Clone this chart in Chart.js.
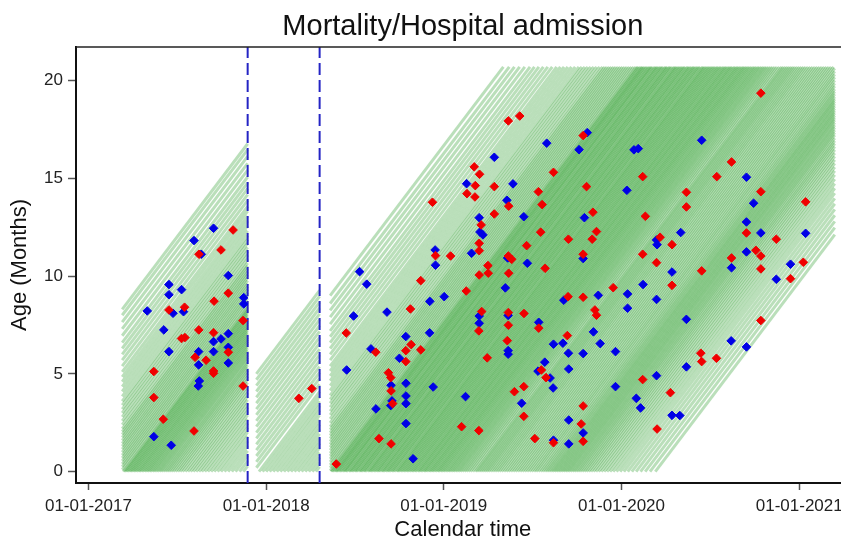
<!DOCTYPE html>
<html>
<head>
<meta charset="utf-8">
<script src="https://cdn.jsdelivr.net/npm/chart.js@4.4.1/dist/chart.umd.min.js"></script>
<style>
  html, body { margin: 0; padding: 0; background: #fff; overflow: hidden; }
  #box { width: 841px; height: 543px; overflow: hidden; }
</style>
</head>
<body>
<div id="box"><canvas id="myChart" width="855" height="543"></canvas></div>
<script>
var ctx = document.getElementById('myChart').getContext('2d');
var FONT = "'Liberation Sans', Arial, sans-serif";

// axis ranges and ticks (calendar time in decimal years, age in months)
const titleText = 'Mortality/Hospital admission';
const timeMin = 2016.93, timeMax = 2021.284;
const ageMin = -0.58, ageMax = 21.72;
const tickYears = [2017, 2018, 2019, 2020, 2021];
const ageTicks = [0, 5, 10, 15, 20];

// follow-up periods (dashed lines mark the breaks)
const periodStart = [2017.19, 2017.945, 2018.36];
const periodEnd = [2017.896, 2018.301, 2021.2];
const breakDates = [2017.896, 2018.301];
const maxAge = 20.7;

// ages (months) of children already present when each period opens
const startAgesP1 = [0.1,0.25,0.4,0.55,0.7,0.85,1.0,1.15,1.3,1.45,1.6,1.75,1.9,2.05,2.2,2.4,2.6,2.8,3.0,3.2,3.4,3.6,3.85,4.1,4.35,4.6,4.85,5.1,5.4,5.7,6.0,6.3,6.6,6.95,7.3,7.65,8.0,8.3];
const startAgesP2 = [0.2,0.5,0.8,1.1,1.4,1.7,2.0,2.3,2.6,2.9,3.2,3.5,3.8,4.1,4.4,4.7,5.0];
const startAgesP3 = [0.05,0.2,0.35,0.5,0.65,0.8,0.95,1.1,1.25,1.4,1.55,1.7,1.85,2.0,2.15,2.3,2.5,2.7,2.9,3.1,3.3,3.5,3.7,3.9,4.15,4.4,4.65,4.9,5.15,5.4,5.7,6.0,6.3,6.6,6.9,7.2,7.55,7.9,8.25,8.6,9.0];

// births (entry at age 0) during each period
const birthsP1 = [2017.195,2017.203,2017.211,2017.219,2017.228,2017.236,2017.244,2017.253,2017.261,2017.27,2017.279,2017.287,2017.296,2017.305,2017.314,2017.323,2017.332,2017.341,2017.35,2017.36,2017.369,2017.379,2017.389,2017.399,2017.409,2017.42,2017.431,2017.442,2017.453,2017.465,2017.477,2017.49,2017.503,2017.516,2017.53,2017.545,2017.56,2017.575,2017.59,2017.606,2017.622,2017.638,2017.655,2017.672,2017.69,2017.708,2017.727,2017.746,2017.766,2017.786,2017.807,2017.828,2017.85,2017.872];
const birthsP2 = [2017.96,2017.98,2018.00,2018.02,2018.04,2018.06,2018.08,2018.10,2018.12,2018.14,2018.16,2018.18,2018.20,2018.22,2018.24,2018.26,2018.28];
const birthsP3 = [2018.365,2018.372,2018.381,2018.39,2018.396,2018.404,2018.413,2018.42,2018.43,2018.437,2018.445,2018.452,2018.463,2018.47,2018.478,2018.486,2018.495,2018.503,2018.51,2018.521,2018.528,2018.535,2018.545,2018.552,2018.56,2018.571,2018.578,2018.586,2018.594,2018.603,2018.611,2018.62,2018.628,2018.635,2018.646,2018.653,2018.661,2018.67,2018.679,2018.686,2018.695,2018.704,2018.712,2018.72,2018.731,2018.738,2018.746,2018.755,2018.763,2018.772,2018.78,2018.789,2018.797,2018.806,2018.815,2018.823,2018.832,2018.84,2018.85,2018.858,2018.866,2018.875,2018.884,2018.892,2018.9,2018.91,2018.918,2018.927,2018.935,2018.944,2018.953,2018.962,2018.97,2018.979,2018.988,2018.997,2019.006,2019.016,2019.025,2019.034,2019.044,2019.053,2019.063,2019.073,2019.083,2019.093,2019.104,2019.115,2019.126,2019.138,2019.15,2019.163,2019.176,2019.186,2019.197,2019.208,2019.219,2019.23,2019.241,2019.252,2019.264,2019.276,2019.288,2019.30,2019.312,2019.325,2019.338,2019.351,2019.364,2019.377,2019.39,2019.403,2019.416,2019.429,2019.442,2019.455,2019.468,2019.481,2019.494,2019.507,2019.519,2019.532,2019.545,2019.557,2019.569,2019.58,2019.591,2019.602,2019.612,2019.622,2019.632,2019.642,2019.652,2019.662,2019.672,2019.682,2019.692,2019.702,2019.712,2019.723,2019.733,2019.744,2019.755,2019.766,2019.778,2019.79,2019.802,2019.815,2019.828,2019.842,2019.856,2019.871,2019.886,2019.902,2019.918,2019.935,2019.953,2019.972,2019.992,2020.013,2020.035,2020.058,2020.082,2020.107,2020.133,2020.16,2020.19];

// events: red = mortality, blue = hospital admission
const redDates = [2017.814,2017.622,2017.746,2017.787,2017.707,2017.453,2017.541,2017.870,2017.621,2017.524,2017.543,2017.704,2017.787,2017.600,2017.662,2017.704,2017.704,2017.368,2017.870,2017.368,2017.421,2017.594,
  2018.184,2018.257,2018.395,
  2019.171,2019.201,2019.177,2019.284,2019.130,2019.175,2019.365,2018.936,2019.284,2019.210,2019.199,2019.199,2018.953,2019.038,2019.248,2019.199,2019.250,2019.365,2018.870,2019.126,2018.812,2019.213,2019.197,2019.363,2019.363,2019.357,2018.451,2018.816,2018.786,2018.870,2018.617,2018.786,2019.244,2018.688,2018.701,2018.703,2018.712,2019.100,2019.197,2018.635,2018.703,
  2019.363,2019.427,2019.784,2019.617,2019.803,2020.119,2019.532,2019.553,2019.839,2020.134,2019.545,2019.859,2019.701,2019.835,2020.217,2020.284,2019.466,2019.784,2020.119,2019.363,2019.382,2020.197,2019.570,2019.953,2020.284,2019.699,2019.784,2019.850,2019.859,2019.451,2019.534,2019.695,2019.549,2019.575,2020.119,2020.275,2019.450,2019.397,2019.784,2019.450,2019.773,2020.200,2019.512,2019.617,2019.784,
  2020.784,2020.619,2020.536,2020.365,2020.784,2021.036,2020.365,2020.703,2020.871,2020.756,2020.784,2020.619,2021.023,2020.451,2020.784,2020.951,2020.784,2020.446,2020.451,2020.534];
const redAges = [12.36,11.12,11.34,9.13,8.72,8.27,8.41,7.73,7.25,6.81,6.86,7.11,6.11,5.85,5.70,5.15,5.03,5.12,4.38,3.79,2.68,2.08,
  3.75,4.25,0.39,
  15.59,15.21,14.63,14.58,14.22,14.05,13.58,13.78,13.18,12.62,11.68,11.30,11.05,11.03,10.54,10.06,10.15,10.15,9.77,9.24,8.32,8.19,7.20,8.14,7.49,6.70,7.09,6.50,6.19,6.23,6.11,5.63,5.82,5.06,4.81,4.13,3.48,2.30,2.10,1.69,1.42,
  17.94,18.19,17.19,15.31,14.58,15.09,14.32,13.66,13.27,13.06,12.25,12.28,11.89,11.89,11.99,11.61,11.56,11.12,11.12,11.03,10.86,10.69,10.40,9.41,9.53,8.95,8.92,8.27,8.00,8.09,7.34,6.96,5.20,4.81,4.71,4.04,4.35,4.09,3.36,2.83,2.44,2.18,1.69,1.48,1.55,
  19.36,15.84,15.09,14.29,14.32,13.80,13.54,12.21,11.89,11.32,11.03,10.93,10.71,10.27,10.37,9.87,7.73,6.06,5.63,5.80];
const blueDates = [2017.704,2017.594,2017.635,2017.787,2017.453,2017.524,2017.453,2017.874,2017.874,2017.331,2017.476,2017.535,2017.424,2017.787,2017.746,2017.704,2017.453,2017.620,2017.704,2017.787,2017.620,2017.787,2017.624,2017.618,2017.368,2017.466,
  2019.284,2019.128,2019.355,2019.199,2019.203,2019.220,2019.156,2018.951,2018.953,2018.526,2018.566,2019.346,2019.002,2018.921,2018.680,2018.492,2019.199,2019.362,2019.199,2019.362,2019.362,2018.786,2018.920,2018.590,2018.750,2018.453,2018.787,2018.703,2018.940,2018.787,2019.122,2018.708,2018.701,2018.787,2018.618,2018.787,2018.827,
  2019.807,2019.579,2019.761,2020.070,2020.094,2019.389,2020.030,2019.450,2019.791,2020.333,2020.197,2020.200,2019.784,2019.359,2019.470,2020.284,2020.121,2020.034,2019.869,2019.675,2020.197,2020.034,2019.534,2019.842,2019.617,2019.670,2019.880,2019.701,2019.784,2019.966,2019.568,2019.530,2019.598,2019.703,2020.197,2019.615,2019.966,2020.083,2020.107,2019.438,2020.284,2020.328,2019.703,2019.784,2019.617,2019.703,
  2020.451,2020.703,2020.743,2020.703,2020.784,2021.036,2020.703,2020.619,2020.951,2020.871,2020.365,2020.617,2020.703,2020.365];
const blueAges = [12.45,11.82,11.12,10.03,9.57,9.31,9.05,8.90,8.58,8.22,8.10,8.18,7.25,7.06,6.79,6.65,6.14,6.14,6.14,6.36,5.46,5.56,4.64,4.38,1.79,1.35,
  16.08,14.73,13.88,12.99,12.26,12.11,11.17,11.34,10.56,10.23,9.59,9.40,8.95,8.71,8.16,7.96,7.96,7.99,7.59,6.19,6.01,6.91,7.10,6.28,5.80,5.20,4.52,4.42,4.33,3.87,3.84,3.62,3.38,3.48,3.21,2.46,0.66,
  17.34,16.80,16.47,16.46,16.52,14.72,14.39,13.04,12.99,12.23,11.85,11.61,10.90,10.93,10.66,10.21,9.57,9.09,9.02,8.77,8.81,8.36,7.64,7.15,6.52,6.57,6.55,6.06,6.04,6.14,5.60,5.14,4.79,5.25,4.91,4.28,4.35,3.75,3.26,3.50,2.88,2.87,2.64,1.98,1.61,1.42,
  16.95,15.06,13.73,12.77,12.21,12.19,11.24,10.43,10.61,9.84,7.79,6.69,6.38,5.36];

// one Lexis line per child: from entry until the period closes or maxAge is reached
var datasets = [];
function addLine(t0, a0, end) {
  var t1 = Math.min(end, t0 + (maxAge - a0) / 12);
  datasets.push({
    type: 'line',
    data: [{x: t0, y: a0}, {x: t1, y: a0 + 12 * (t1 - t0)}],
    borderColor: 'rgba(25,150,25,0.3)',
    borderWidth: 3,
    pointRadius: 0,
    fill: false,
    order: 3
  });
}
var startAges = [startAgesP1, startAgesP2, startAgesP3];
var births = [birthsP1, birthsP2, birthsP3];
for (let p = 0; p < 3; p++) {
  startAges[p].forEach(a => addLine(periodStart[p], a, periodEnd[p]));
  births[p].forEach(b => addLine(b, 0, periodEnd[p]));
}

breakDates.forEach(function(d) {
  datasets.push({
    type: 'line',
    data: [{x: d, y: ageMin}, {x: d, y: ageMax}],
    borderColor: '#2424c4',
    borderWidth: 2,
    borderDash: [12, 5],
    pointRadius: 0,
    order: 2
  });
});

datasets.push({
  type: 'scatter',
  data: blueDates.map((d, i) => ({x: d, y: blueAges[i]})),
  pointStyle: 'rectRot',
  pointRadius: 4.3,
  backgroundColor: '#0000e6',
  borderColor: '#0000e6',
  borderWidth: 1,
  order: 1
});
datasets.push({
  type: 'scatter',
  data: redDates.map((d, i) => ({x: d, y: redAges[i]})),
  pointStyle: 'rectRot',
  pointRadius: 4.3,
  backgroundColor: '#f00000',
  borderColor: '#f00000',
  borderWidth: 1,
  order: 0
});

// top edge of the plot box and a title centred over the plot region
const frameAndTitle = {
  id: 'frameAndTitle',
  afterDraw(chart) {
    const a = chart.chartArea, c = chart.ctx;
    c.save();
    c.strokeStyle = '#222';
    c.lineWidth = 1.5;
    c.beginPath();
    c.moveTo(a.left, a.top);
    c.lineTo(a.right, a.top);
    c.stroke();
    c.fillStyle = '#111';
    c.font = '29px ' + FONT;
    c.textAlign = 'center';
    c.textBaseline = 'alphabetic';
    c.fillText(titleText, (a.left + a.right) / 2, 35);
    c.restore();
  }
};

var chart = new Chart(ctx, {
  type: 'scatter',
  data: { datasets: datasets },
  plugins: [frameAndTitle],
  options: {
    responsive: false,
    animation: false,
    events: [],
    layout: { padding: { top: 47, left: 0, right: 0, bottom: 0 } },
    plugins: {
      legend: { display: false },
      tooltip: { enabled: false },
      title: { display: false }
    },
    scales: {
      x: {
        type: 'linear',
        min: timeMin,
        max: timeMax,
        afterBuildTicks: s => { s.ticks = tickYears.map(v => ({value: v})); },
        afterFit: s => { s.height = 60; s.paddingLeft = 0; s.paddingRight = 0; },
        ticks: {
          callback: v => '01-01-' + v,
          color: '#222',
          font: { family: FONT, size: 17 },
          padding: 6,
          maxRotation: 0,
          autoSkip: false
        },
        grid: { drawOnChartArea: false, drawTicks: true, tickLength: 7, tickColor: '#555', tickWidth: 1.5 },
        border: { display: true, color: '#111', width: 2 },
        title: {
          display: true,
          text: 'Calendar time',
          color: '#111',
          font: { family: FONT, size: 22 },
          padding: { top: 0, bottom: 0 }
        }
      },
      y: {
        type: 'linear',
        min: ageMin,
        max: ageMax,
        afterBuildTicks: s => { s.ticks = ageTicks.map(v => ({value: v})); },
        afterFit: s => { s.width = 76; s.paddingTop = 0; s.paddingBottom = 0; },
        ticks: {
          color: '#222',
          font: { family: FONT, size: 17 },
          padding: 5
        },
        grid: { drawOnChartArea: false, drawTicks: true, tickLength: 8, tickColor: '#555', tickWidth: 1.5 },
        border: { display: true, color: '#111', width: 2 },
        title: {
          display: true,
          text: 'Age (Months)',
          color: '#111',
          font: { family: FONT, size: 22 },
          padding: { top: 7, bottom: 0 }
        }
      }
    }
  }
});
</script>
</body>
</html>
